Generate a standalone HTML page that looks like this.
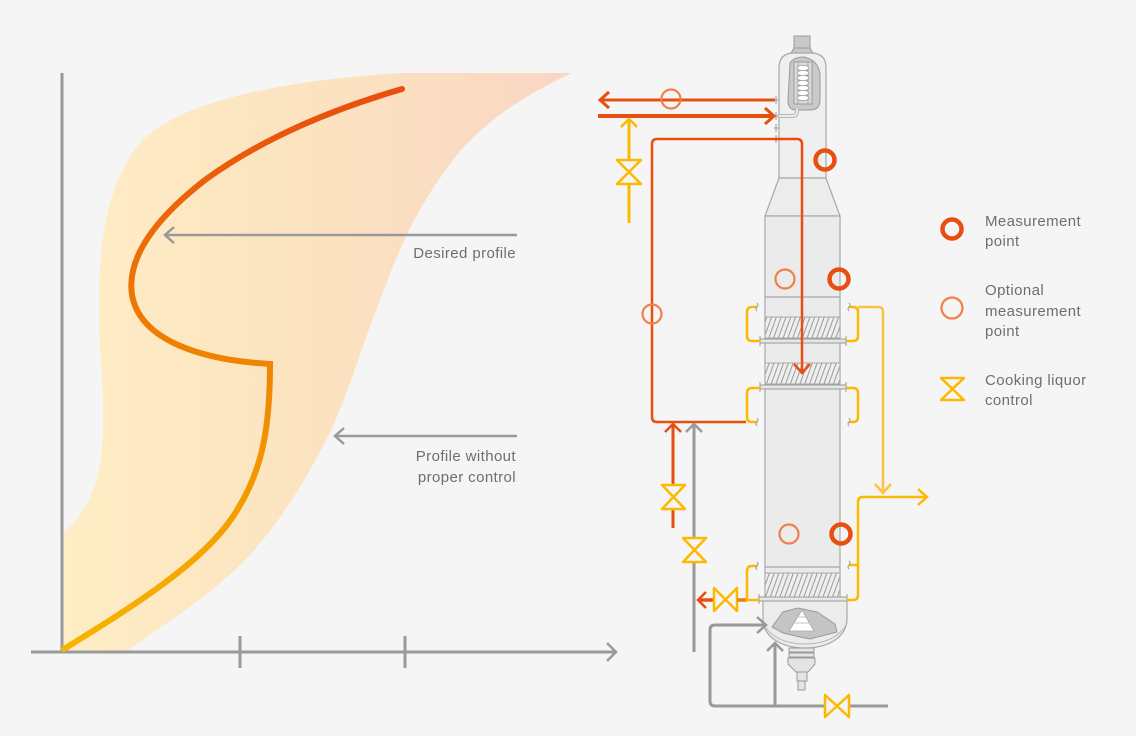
<!DOCTYPE html>
<html>
<head>
<meta charset="utf-8">
<style>
  html, body { margin: 0; padding: 0; background: #f5f5f5; }
  svg { display: block; }
  text { font-family: "Liberation Sans", sans-serif; fill: #6e6e6e; font-size: 15px; letter-spacing: 0.4px; }
</style>
</head>
<body>
<svg width="1136" height="736" viewBox="0 0 1136 736" xmlns="http://www.w3.org/2000/svg">
  <defs>
    <linearGradient id="band" x1="62" y1="0" x2="574" y2="0" gradientUnits="userSpaceOnUse">
      <stop offset="0" stop-color="#feedc5"/>
      <stop offset="0.5" stop-color="#fce3c0"/>
      <stop offset="1" stop-color="#f9d6c4"/>
    </linearGradient>
    <linearGradient id="curve" x1="0" y1="650" x2="0" y2="89" gradientUnits="userSpaceOnUse">
      <stop offset="0" stop-color="#f9b400"/>
      <stop offset="0.45" stop-color="#f08a00"/>
      <stop offset="1" stop-color="#e84e0f"/>
    </linearGradient>
    <pattern id="hatch" width="4.5" height="10" patternUnits="userSpaceOnUse" patternTransform="rotate(20)">
      <rect width="4.5" height="10" fill="#eeeeee"/>
      <line x1="1" y1="0" x2="1" y2="10" stroke="#9a9a9a" stroke-width="1"/>
    </pattern>
  </defs>

  <rect width="1136" height="736" fill="#f5f5f5"/>

  <!-- ================= CHART ================= -->
  <path d="M400,73 C290,80 170,100 135,149 C110,185 100,230 99,295 C98,340 104,380 103,430 C102,480 90,510 62,534 L62,652 L126,652 C170,620 210,595 240,565 C280,525 305,480 328,437 C350,390 360,350 380,300 C400,245 420,200 462,149 C490,118 525,95 572,73 Z" fill="url(#band)"/>

  <!-- axes -->
  <line x1="62" y1="73" x2="62" y2="653" stroke="#999" stroke-width="3"/>
  <line x1="31" y1="652" x2="616" y2="652" stroke="#999" stroke-width="3"/>
  <polyline points="607,643 616,652 607,661" fill="none" stroke="#999" stroke-width="2.5"/>
  <line x1="240" y1="636" x2="240" y2="668" stroke="#999" stroke-width="3"/>
  <line x1="405" y1="636" x2="405" y2="668" stroke="#999" stroke-width="3"/>

  <!-- profile curve -->
  <path d="M64,649 C130,608 200,565 232,518 C262,474 270,430 270,364 C200,360 140,340 132,295 C126,255 160,215 205,180 C260,140 330,110 402,89" fill="none" stroke="url(#curve)" stroke-width="6" stroke-linecap="round" stroke-linejoin="miter"/>

  <!-- annotation arrows -->
  <line x1="517" y1="235" x2="165" y2="235" stroke="#999" stroke-width="2.5"/>
  <polyline points="174,227 165,235 174,243" fill="none" stroke="#999" stroke-width="2.5"/>
  <line x1="517" y1="436" x2="335" y2="436" stroke="#999" stroke-width="2.5"/>
  <polyline points="344,428 335,436 344,444" fill="none" stroke="#999" stroke-width="2.5"/>

  <text x="516" y="258" text-anchor="end">Desired profile</text>
  <text x="516" y="461" text-anchor="end">Profile without</text>
  <text x="516" y="482" text-anchor="end">proper control</text>

  <!-- ================= VESSEL ================= -->
  <!-- cap -->
  <rect x="794" y="36" width="16" height="12" fill="#c8c8c8" stroke="#9a9a9a" stroke-width="1"/>
  <path d="M794,48 L810,48 L813,53 L791,53 Z" fill="#c8c8c8" stroke="#9a9a9a" stroke-width="1"/>
  <!-- upper column -->
  <path d="M779,178 L779,68 Q779,53 794,53 L811,53 Q826,53 826,68 L826,178 Z" fill="#efefef" stroke="#a8a8a8" stroke-width="1.2"/>
  <!-- heat exchanger -->
  <path d="M790,63 Q794,57 804,57 Q818,60 820,74 L820,100 Q820,110 810,110 L796,110 Q788,110 788,100 Z" fill="#c9c9c9" stroke="#9a9a9a" stroke-width="1"/>
  <rect x="794" y="62" width="18" height="42" fill="#dcdcdc" stroke="#9a9a9a" stroke-width="1"/>
  <line x1="798" y1="62" x2="798" y2="104" stroke="#9a9a9a" stroke-width="0.8"/>
  <line x1="808" y1="62" x2="808" y2="104" stroke="#9a9a9a" stroke-width="0.8"/>
  <g fill="#ffffff" stroke="#9a9a9a" stroke-width="0.8">
    <ellipse cx="803" cy="68" rx="6" ry="2.6"/>
    <ellipse cx="803" cy="73" rx="6" ry="2.6"/>
    <ellipse cx="803" cy="78" rx="6" ry="2.6"/>
    <ellipse cx="803" cy="83" rx="6" ry="2.6"/>
    <ellipse cx="803" cy="88" rx="6" ry="2.6"/>
    <ellipse cx="803" cy="93" rx="6" ry="2.6"/>
    <ellipse cx="803" cy="98" rx="6" ry="2.6"/>
  </g>
  <!-- inlet pipe to exchanger -->
  <path d="M779,116 L792,116 Q797,116 797,111 L797,109" fill="none" stroke="#b5b5b5" stroke-width="4"/>
  <path d="M779,116 L792,116 Q797,116 797,111 L797,109" fill="none" stroke="#ececec" stroke-width="2"/>
  <!-- cone -->
  <path d="M779,178 L826,178 L840,216 L765,216 Z" fill="#ececec" stroke="#a8a8a8" stroke-width="1.2"/>
  <!-- main body -->
  <rect x="765" y="216" width="75" height="386" fill="#ebebeb" stroke="#a8a8a8" stroke-width="1.2"/>
  <line x1="765" y1="297" x2="840" y2="297" stroke="#a8a8a8" stroke-width="1.2"/>
  <line x1="765" y1="567" x2="840" y2="567" stroke="#a8a8a8" stroke-width="1.2"/>
  <!-- hatch bands -->
  <rect x="765" y="317" width="75" height="21" fill="url(#hatch)" stroke="#a8a8a8" stroke-width="1"/>
  <rect x="765" y="363" width="75" height="21" fill="url(#hatch)" stroke="#a8a8a8" stroke-width="1"/>
  <rect x="765" y="573" width="75" height="24" fill="url(#hatch)" stroke="#a8a8a8" stroke-width="1"/>
  <!-- flanges -->
  <g fill="#e6e6e6" stroke="#9a9a9a" stroke-width="1">
    <rect x="760" y="339" width="86" height="4"/>
    <rect x="760" y="385" width="86" height="4"/>
    <rect x="759" y="597" width="88" height="4"/>
  </g>
  <g stroke="#9a9a9a" stroke-width="1">
    <line x1="760" y1="336" x2="760" y2="346"/><line x1="846" y1="336" x2="846" y2="346"/>
    <line x1="760" y1="382" x2="760" y2="392"/><line x1="846" y1="382" x2="846" y2="392"/>
    <line x1="759" y1="594" x2="759" y2="604"/><line x1="847" y1="594" x2="847" y2="604"/>
  </g>
  <!-- bottom dome -->
  <path d="M763,601 L763,618 C763,640 786,648 805,648 C824,648 847,640 847,618 L847,601 Z" fill="#ececec" stroke="#a8a8a8" stroke-width="1.2"/>
  <path d="M765,627 C775,640 790,644 805,644 C820,644 835,640 845,627" fill="none" stroke="#b5b5b5" stroke-width="1"/>
  <!-- scraper -->
  <path d="M772,627 L783,612 L798,608 L817,612 L835,624 L837,632 L810,639 L800,637 L783,633 Z" fill="#c4c4c4" stroke="#9a9a9a" stroke-width="1"/>
  <path d="M802,610 L789,631 L814,631 Z" fill="#ffffff" stroke="#aaa" stroke-width="0.8"/>
  <line x1="796" y1="617" x2="808" y2="617" stroke="#c4c4c4" stroke-width="1"/>
  <line x1="793" y1="623" x2="811" y2="623" stroke="#c4c4c4" stroke-width="1"/>
  <!-- stem -->
  <g fill="#e4e4e4" stroke="#9a9a9a" stroke-width="1">
    <rect x="789" y="648" width="25" height="4"/>
    <rect x="789" y="653" width="25" height="4"/>
    <path d="M788,658 L815,658 L815,664 L808,672 L796,672 L788,664 Z"/>
    <rect x="797" y="672" width="10" height="9"/>
    <rect x="798" y="681" width="7" height="9"/>
  </g>

  <!-- flange ticks at top-left -->
  <g stroke="#9a9a9a" stroke-width="1">
    <line x1="774" y1="100" x2="779" y2="100"/><line x1="776" y1="96" x2="776" y2="104"/>
    <line x1="774" y1="116" x2="779" y2="116"/><line x1="776" y1="112" x2="776" y2="120"/>
    <line x1="774" y1="128" x2="779" y2="128"/><line x1="776" y1="124" x2="776" y2="132"/>
    <line x1="774" y1="139" x2="779" y2="139"/><line x1="776" y1="135" x2="776" y2="143"/>
  </g>

  <!-- ================= PIPES ================= -->
  <!-- top red lines -->
  <line x1="600" y1="100" x2="775" y2="100" stroke="#e84e0f" stroke-width="3"/>
  <polyline points="609,92 600,100 609,108" fill="none" stroke="#e84e0f" stroke-width="3"/>
  <circle cx="671" cy="99" r="9.5" fill="none" stroke="#f08048" stroke-width="2.2"/>
  <line x1="598" y1="116" x2="774" y2="116" stroke="#e84e0f" stroke-width="4"/>
  <polyline points="765,108 774,116 765,124" fill="none" stroke="#e84e0f" stroke-width="3"/>

  <!-- yellow up arrow with valve -->
  <line x1="629" y1="223" x2="629" y2="119" stroke="#fbb900" stroke-width="3"/>
  <polyline points="621,127 629,119 637,127" fill="none" stroke="#fbb900" stroke-width="2.5"/>
  <path d="M617,160 L641,160 L617,184 L641,184 Z" fill="#f5f5f5" stroke="#fbb900" stroke-width="2.5" stroke-linejoin="round"/>

  <!-- red loop -->
  <path d="M778,139 L657,139 Q652,139 652,144 L652,417 Q652,422 657,422 L746,422" fill="none" stroke="#e84e0f" stroke-width="2.5"/>
  <path d="M776,139 L797,139 Q802,139 802,144 L802,372" fill="none" stroke="#e84e0f" stroke-width="2.5"/>
  <polyline points="794,364 802,373 810,364" fill="none" stroke="#e84e0f" stroke-width="2.5"/>
  <circle cx="652" cy="314" r="9.5" fill="none" stroke="#f08048" stroke-width="2.2"/>

  <!-- red up arrow + valve -->
  <line x1="673" y1="528" x2="673" y2="425" stroke="#e84e0f" stroke-width="3"/>
  <polyline points="665,432 673,424 681,432" fill="none" stroke="#e84e0f" stroke-width="2.5"/>
  <path d="M662,485 L685,485 L662,509 L685,509 Z" fill="#f5f5f5" stroke="#fbb900" stroke-width="2.5" stroke-linejoin="round"/>

  <!-- gray up arrow + valve -->
  <line x1="694" y1="652" x2="694" y2="425" stroke="#999" stroke-width="3"/>
  <polyline points="686,432 694,424 702,432" fill="none" stroke="#999" stroke-width="2.5"/>
  <path d="M683,538 L706,538 L683,562 L706,562 Z" fill="#f5f5f5" stroke="#fbb900" stroke-width="2.5" stroke-linejoin="round"/>

  <!-- bottom-left red arrow + valve -->
  <line x1="698" y1="600" x2="714" y2="600" stroke="#e84e0f" stroke-width="3.5"/>
  <polyline points="706,592 698,600 706,608" fill="none" stroke="#e84e0f" stroke-width="2.5"/>
  <path d="M714,588 L714,611 L737,588 L737,611 Z" fill="#f5f5f5" stroke="#fbb900" stroke-width="2.5" stroke-linejoin="round"/>
  <line x1="737" y1="600" x2="747" y2="600" stroke="#f07a10" stroke-width="3.5"/>

  <!-- yellow brackets -->
  <g fill="none" stroke="#fbb900" stroke-width="2.5">
    <path d="M757,307 L752,307 Q747,307 747,312 L747,336 Q747,341 752,341 L760,341"/>
    <path d="M849,307 L853,307 Q858,307 858,312 L858,336 Q858,341 853,341 L846,341"/>
    <path d="M760,388 L752,388 Q747,388 747,393 L747,417 Q747,422 752,422 L757,422"/>
    <path d="M846,388 L853,388 Q858,388 858,393 L858,417 Q858,422 853,422 L849,422"/>
    <path d="M757,566 L752,566 Q747,566 747,571 L747,600 L759,600"/>
    <path d="M847,600 L853,600 Q858,600 858,595 L858,502 Q858,497 863,497 L926,497"/>
    <line x1="849" y1="565" x2="858" y2="565"/>
  </g>
  <polyline points="918,489 927,497 918,505" fill="none" stroke="#fbb900" stroke-width="2.5"/>
  <path d="M858,307 L878,307 Q883,307 883,312 L883,492" fill="none" stroke="#fbc340" stroke-width="2.5"/>
  <polyline points="875,484 883,493 891,484" fill="none" stroke="#fbc340" stroke-width="2.5"/>

  <!-- small bracket end ticks -->
  <g fill="none" stroke="#9a9a9a" stroke-width="1">
    <path d="M757,303 q2,2 0,4 q-2,2 0,4"/>
    <path d="M849,303 q2,2 0,4 q-2,2 0,4"/>
    <path d="M757,418 q2,2 0,4 q-2,2 0,4"/>
    <path d="M849,418 q2,2 0,4 q-2,2 0,4"/>
    <path d="M757,562 q2,2 0,4 q-2,2 0,4"/>
    <path d="M849,561 q2,2 0,4 q-2,2 0,4"/>
  </g>

  <!-- gray bottom loop -->
  <path d="M765,625 L715,625 Q710,625 710,630 L710,701 Q710,706 715,706 L888,706" fill="none" stroke="#999" stroke-width="3"/>
  <polyline points="757,617 766,625 757,633" fill="none" stroke="#999" stroke-width="2.5"/>
  <line x1="775" y1="706" x2="775" y2="644" stroke="#999" stroke-width="3"/>
  <polyline points="767,651 775,643 783,651" fill="none" stroke="#999" stroke-width="2.5"/>
  <path d="M825,695 L825,717 L849,695 L849,717 Z" fill="#f5f5f5" stroke="#fbb900" stroke-width="2.5" stroke-linejoin="round"/>

  <!-- measurement circles on vessel -->
  <g fill="none" stroke="#e84e0f" stroke-width="4.5">
    <circle cx="825" cy="160" r="9.5"/>
    <circle cx="839" cy="279" r="9.5"/>
    <circle cx="841" cy="534" r="9.5"/>
  </g>
  <g fill="none" stroke="#f08048" stroke-width="2.2">
    <circle cx="785" cy="279" r="9.5"/>
    <circle cx="789" cy="534" r="9.5"/>
  </g>

  <!-- ================= LEGEND ================= -->
  <circle cx="952" cy="229" r="9.5" fill="none" stroke="#e84e0f" stroke-width="4.5"/>
  <text x="985" y="226">Measurement</text>
  <text x="985" y="246">point</text>

  <circle cx="952" cy="308" r="10.5" fill="none" stroke="#f08048" stroke-width="2.2"/>
  <text x="985" y="295">Optional</text>
  <text x="985" y="316">measurement</text>
  <text x="985" y="336">point</text>

  <path d="M941,378 L964,378 L941,400 L964,400 Z" fill="none" stroke="#fbb900" stroke-width="2.5" stroke-linejoin="round"/>
  <text x="985" y="385">Cooking liquor</text>
  <text x="985" y="405">control</text>
</svg>
</body>
</html>
